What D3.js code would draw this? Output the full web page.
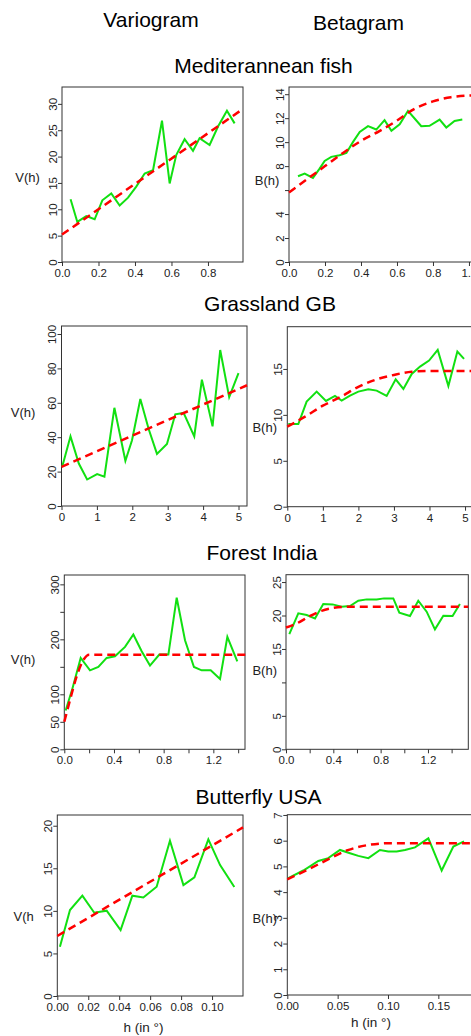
<!DOCTYPE html>
<html>
<head>
<meta charset="utf-8">
<script src="https://cdn.jsdelivr.net/npm/d3@7"></script>
<style>
body { margin: 0; background: #fff; }
text { font-family: "Liberation Sans", Arial, sans-serif; }
</style>
</head>
<body>
<script>

// column and row titles
var columnTitles = ["Variogram", "Betagram"];
var rowTitles = ["Mediterannean fish", "Grassland GB", "Forest India", "Butterfly USA"];
var xTitle = "h (in \u00b0)";

// Mediterannean fish
var fishVarH = [0.047, 0.084, 0.133, 0.179, 0.221, 0.270, 0.316, 0.362, 0.407, 0.453, 0.499, 0.548, 0.590, 0.626, 0.672, 0.718, 0.754, 0.809, 0.855, 0.904, 0.946];
var fishVarV = [11.9, 7.6, 8.7, 8.1, 11.7, 13.0, 10.7, 12.2, 14.3, 16.8, 17.4, 26.8, 14.9, 20.3, 23.3, 21.1, 23.5, 22.2, 25.7, 28.7, 26.3];
var fishVarFitH = [0, 0.99];
var fishVarFitV = [5.2, 29.0];

var fishBetaH = [0.050, 0.087, 0.133, 0.170, 0.198, 0.235, 0.281, 0.319, 0.356, 0.393, 0.439, 0.485, 0.531, 0.569, 0.615, 0.661, 0.698, 0.735, 0.781, 0.837, 0.874, 0.920, 0.963];
var fishBetaB = [7.15, 7.38, 7.01, 7.79, 8.43, 8.77, 8.91, 9.10, 10.02, 10.85, 11.33, 11.05, 11.83, 10.94, 11.49, 12.61, 11.97, 11.33, 11.36, 11.88, 11.22, 11.77, 11.88];
var fishBetaFitH = [0, 0.1, 0.2, 0.3, 0.4, 0.5, 0.6, 0.7, 0.8, 0.9, 1.03];
var fishBetaFitB = [5.8, 6.9, 8.0, 9.1, 10.1, 10.9, 11.8, 12.8, 13.4, 13.75, 13.9];

// Grassland GB
var grassVarH = [0.02, 0.254, 0.489, 0.724, 1.006, 1.212, 1.494, 1.805, 1.992, 2.227, 2.462, 2.697, 2.979, 3.214, 3.449, 3.75, 3.966, 4.267, 4.483, 4.737, 5.0];
var grassVarV = [22.8, 40.5, 24.7, 15.4, 18.5, 17.0, 57.1, 26.3, 38.2, 62.2, 44.8, 30.3, 36.1, 53.3, 54.1, 40.5, 73.4, 46.3, 90.7, 63.3, 77.2];
var grassVarFitH = [0, 5.24];
var grassVarFitV = [22.8, 70.2];

var grassBetaH = [0.028, 0.31, 0.544, 0.826, 1.088, 1.341, 1.529, 1.764, 1.998, 2.280, 2.514, 2.795, 3.049, 3.265, 3.5, 3.734, 3.987, 4.231, 4.531, 4.784, 4.972];
var grassBetaB = [9.0, 9.0, 11.44, 12.53, 11.51, 12.06, 11.55, 12.09, 12.53, 12.78, 12.64, 12.06, 13.87, 12.82, 14.46, 15.26, 15.91, 17.07, 13.15, 16.89, 16.1];
var grassBetaFitH = [0, 0.5, 1, 1.5, 2, 2.5, 3, 3.5, 4, 5.3];
var grassBetaFitB = [8.72, 9.8, 11.0, 11.95, 13.05, 13.85, 14.35, 14.7, 14.78, 14.78];

// Forest India
var forestVarH = [0.011, 0.065, 0.132, 0.207, 0.274, 0.341, 0.408, 0.489, 0.556, 0.623, 0.690, 0.765, 0.838, 0.905, 0.972, 1.044, 1.106, 1.179, 1.254, 1.313, 1.393];
var forestVarV = [70.6, 110, 166.2, 143.6, 149.7, 166.2, 169.2, 186.2, 208.8, 178.3, 152.2, 172.3, 172.3, 275.7, 198.4, 149.7, 143.6, 143.6, 127.8, 204.5, 160.1];
var forestVarFitH = [0, 0.05, 0.1, 0.15, 0.2, 1.46];
var forestVarFitV = [50, 93, 133, 161, 172, 172];

var forestBetaH = [0.028, 0.104, 0.175, 0.245, 0.315, 0.394, 0.470, 0.541, 0.611, 0.682, 0.766, 0.828, 0.907, 0.958, 1.048, 1.118, 1.189, 1.259, 1.330, 1.408, 1.470];
var forestBetaB = [17.23, 20.32, 20.07, 19.57, 21.71, 21.66, 21.31, 21.41, 22.21, 22.41, 22.41, 22.56, 22.56, 20.42, 19.92, 22.21, 20.57, 17.93, 19.97, 19.92, 21.71];
var forestBetaFitH = [0, 0.1, 0.2, 0.3, 0.4, 0.5, 1.54];
var forestBetaFitB = [18.2, 18.9, 19.9, 20.7, 21.15, 21.3, 21.3];

// Butterfly USA
var flyVarH = [0.0017, 0.0082, 0.0162, 0.0239, 0.0319, 0.0409, 0.0485, 0.0556, 0.0642, 0.0728, 0.0815, 0.0886, 0.0976, 0.1052, 0.1144];
var flyVarV = [5.79, 10.1, 11.78, 9.78, 10.02, 7.75, 11.78, 11.58, 12.84, 18.24, 13.03, 13.93, 18.4, 15.38, 12.8];
var flyVarFitH = [0, 0.12];
var flyVarFitV = [7.05, 19.8];

var flyBetaH = [0.001, 0.0159, 0.0308, 0.0407, 0.0523, 0.0623, 0.0705, 0.0805, 0.092, 0.1003, 0.1086, 0.1169, 0.1268, 0.1401, 0.1533, 0.1649, 0.1755];
var flyBetaB = [4.54, 4.84, 5.21, 5.32, 5.64, 5.51, 5.41, 5.32, 5.64, 5.58, 5.58, 5.64, 5.74, 6.09, 4.84, 5.77, 5.97];
var flyBetaFitH = [0, 0.02, 0.04, 0.06, 0.08, 0.1, 0.19];
var flyBetaFitB = [4.5, 4.87, 5.26, 5.63, 5.83, 5.9, 5.9];

// ticks
var ticksFrac2 = [0, 0.2, 0.4, 0.6, 0.8];
var ticksFrac2b = [0, 0.2, 0.4, 0.6, 0.8, 1.0];
var ticksInt5 = [0, 1, 2, 3, 4, 5];
var ticksForestX = [0, 0.2, 0.4, 0.6, 0.8, 1.0, 1.2, 1.4];
var labelsForestX = [0, 0.4, 0.8, 1.2];
var ticksFlyVarX = [0, 0.02, 0.04, 0.06, 0.08, 0.10];
var ticksFlyBetaX = [0, 0.05, 0.10, 0.15];

var ticksFishVarY = [0, 5, 10, 15, 20, 25, 30];
var ticksFishBetaY = [0, 2, 4, 6, 8, 10, 12, 14];
var labelsFishBetaY = [0, 2, 4, 8, 10, 12, 14];
var ticksGrassVarY = [0, 20, 40, 60, 80, 100];
var ticksGrassBetaY = [0, 5, 10, 15];
var ticksForestVarY = [0, 50, 100, 150, 200, 250, 300];
var labelsForestVarY = [0, 50, 100, 200, 300];
var ticksForestBetaY = [0, 5, 10, 15, 20, 25];
var labelsForestBetaY = [0, 5, 15, 20, 25];
var ticksFlyVarY = [0, 5, 10, 15, 20];
var ticksFlyBetaY = [0, 1, 2, 3, 4, 5, 6, 7];


d3.select(window).on('load', init);

function init()
{
    var w = 471;
    var h = 1036;

    var svg = d3.select("body")
        .append("svg")
        .attr("width", w)
        .attr("height", h);

    // headers
    svg.append("text").attr("x", 151).attr("y", 26.5)
        .attr("text-anchor", "middle").style("font-size", "21px")
        .text(columnTitles[0]);
    svg.append("text").attr("x", 358.5).attr("y", 30)
        .attr("text-anchor", "middle").style("font-size", "21px")
        .text(columnTitles[1]);

    var rowPos = [[263.5, 72.5], [270, 310.5], [262, 560], [258.5, 803.5]];
    rowTitles.forEach(function(t, i) {
        svg.append("text").attr("x", rowPos[i][0]).attr("y", rowPos[i][1])
            .attr("text-anchor", "middle").style("font-size", "21px")
            .text(t);
    });

    var panels = [
        { h: fishVarH, v: fishVarV, fh: fishVarFitH, fv: fishVarFitV,
          left: 62, right: 243, top: 87, bottom: 262, xMax: 0.992, yMax: 33.2,
          xTicks: ticksFrac2, xLabels: ticksFrac2, xFmt: ".1f",
          yTicks: ticksFishVarY, yLabels: ticksFishVarY,
          label: "V(h)", lx: 27.5, ly: 177 },
        { h: fishBetaH, v: fishBetaB, fh: fishBetaFitH, fv: fishBetaFitB,
          left: 289, right: 474, top: 87, bottom: 262, xMax: 1.028, yMax: 14.6,
          xTicks: ticksFrac2b, xLabels: ticksFrac2b, xFmt: ".1f",
          yTicks: ticksFishBetaY, yLabels: labelsFishBetaY,
          label: "B(h)", lx: 267, ly: 180 },
        { h: grassVarH, v: grassVarV, fh: grassVarFitH, fv: grassVarFitV,
          left: 61.5, right: 247, top: 326, bottom: 506, xMax: 5.24, yMax: 104.65,
          xTicks: ticksInt5, xLabels: ticksInt5, xFmt: "d",
          yTicks: ticksGrassVarY, yLabels: ticksGrassVarY,
          label: "V(h)", lx: 23, ly: 412 },
        { h: grassBetaH, v: grassBetaB, fh: grassBetaFitH, fv: grassBetaFitB,
          left: 287.3, right: 475, top: 326.7, bottom: 506.7, xMax: 5.28, yMax: 19.6,
          xTicks: ticksInt5, xLabels: ticksInt5, xFmt: "d",
          yTicks: ticksGrassBetaY, yLabels: ticksGrassBetaY,
          label: "B(h)", lx: 264.7, ly: 427 },
        { h: forestVarH, v: forestVarV, fh: forestVarFitH, fv: forestVarFitV,
          left: 64.3, right: 245, top: 575, bottom: 749.3, xMax: 1.455, yMax: 317,
          xTicks: ticksForestX, xLabels: labelsForestX, xFmt: ".1f",
          yTicks: ticksForestVarY, yLabels: labelsForestVarY,
          label: "V(h)", lx: 23, ly: 659.5 },
        { h: forestBetaH, v: forestBetaB, fh: forestBetaFitH, fv: forestBetaFitB,
          left: 286, right: 468.3, top: 574.7, bottom: 749.3, xMax: 1.541, yMax: 26.1,
          xTicks: ticksForestX, xLabels: labelsForestX, xFmt: ".1f",
          yTicks: ticksForestBetaY, yLabels: labelsForestBetaY,
          label: "B(h)", lx: 264.7, ly: 670 },
        { h: flyVarH, v: flyVarV, fh: flyVarFitH, fv: flyVarFitV,
          left: 57.3, right: 243, top: 815, bottom: 996, xMax: 0.12, yMax: 21.26,
          xTicks: ticksFlyVarX, xLabels: ticksFlyVarX, xFmt: ".2f",
          yTicks: ticksFlyVarY, yLabels: ticksFlyVarY,
          label: "V(h", lx: 23.7, ly: 916,
          title: xTitle, tx: 143.5, ty: 1031.5 },
        { h: flyBetaH, v: flyBetaB, fh: flyBetaFitH, fv: flyBetaFitB,
          left: 287.3, right: 476, top: 814.7, bottom: 995, xMax: 0.1874, yMax: 7.01,
          xTicks: ticksFlyBetaX, xLabels: ticksFlyBetaX, xFmt: ".2f",
          yTicks: ticksFlyBetaY, yLabels: ticksFlyBetaY,
          label: "B(h)", lx: 264.7, ly: 918.5,
          title: xTitle, tx: 371, ty: 1027 }
    ];

    panels.forEach(function(p) {
        drawPanel(svg, p);
    });
}

function drawPanel(svg, p)
{
    var xScale = d3.scaleLinear().domain([0, p.xMax]).range([p.left, p.right]);
    var yScale = d3.scaleLinear().domain([0, p.yMax]).range([p.bottom, p.top]);

    var xf = d3.format(p.xFmt);

    // x axis
    var gx = svg.append("g")
        .attr("transform", "translate(0," + p.bottom + ")")
        .call(d3.axisBottom(xScale)
            .tickValues(p.xTicks)
            .tickSize(4)
            .tickSizeOuter(0)
            .tickPadding(3)
            .tickFormat(function(d) {
                return p.xLabels.some(function(l) { return Math.abs(l - d) < 1e-9; }) ? xf(d) : "";
            }));
    gx.select(".domain").remove();
    gx.selectAll("line").attr("stroke", "#333");
    gx.selectAll("text").attr("fill", "#222").style("font-size", "11.5px");

    // y axis, labels turned like R does
    var gy = svg.append("g")
        .attr("transform", "translate(" + p.left + ",0)")
        .call(d3.axisLeft(yScale)
            .tickValues(p.yTicks)
            .tickSize(4)
            .tickSizeOuter(0)
            .tickFormat(function(d) {
                return p.yLabels.indexOf(d) >= 0 ? d : "";
            }));
    gy.select(".domain").remove();
    gy.selectAll("line").attr("stroke", "#333");
    gy.selectAll("text")
        .attr("fill", "#222")
        .style("font-size", "11.5px")
        .attr("transform", "rotate(-90)")
        .attr("text-anchor", "middle")
        .attr("x", 0)
        .attr("y", -5.5)
        .attr("dy", null);

    // frame
    svg.append("rect")
        .attr("x", p.left)
        .attr("y", p.top)
        .attr("width", p.right - p.left)
        .attr("height", p.bottom - p.top)
        .attr("fill", "none")
        .attr("stroke", "#333")
        .attr("stroke-width", 1);

    var line = d3.line()
        .x(function(d) { return xScale(d[0]); })
        .y(function(d) { return yScale(d[1]); });

    // observed
    svg.append("path")
        .datum(d3.zip(p.h, p.v))
        .attr("d", line)
        .attr("fill", "none")
        .attr("stroke", "#11e011")
        .attr("stroke-width", 2);

    // fitted model
    svg.append("path")
        .datum(d3.zip(p.fh, p.fv))
        .attr("d", line.curve(d3.curveMonotoneX))
        .attr("fill", "none")
        .attr("stroke", "#ff0000")
        .attr("stroke-width", 2.5)
        .attr("stroke-dasharray", "8,5");

    svg.append("text")
        .attr("x", p.lx)
        .attr("y", p.ly)
        .attr("text-anchor", "middle")
        .attr("dominant-baseline", "central")
        .attr("fill", "#222")
        .style("font-size", "13px")
        .text(p.label);

    if (p.title) {
        svg.append("text")
            .attr("x", p.tx)
            .attr("y", p.ty)
            .attr("text-anchor", "middle")
            .attr("fill", "#222")
            .style("font-size", "13.5px")
            .text(p.title);
    }
}

</script>
</body>
</html>
